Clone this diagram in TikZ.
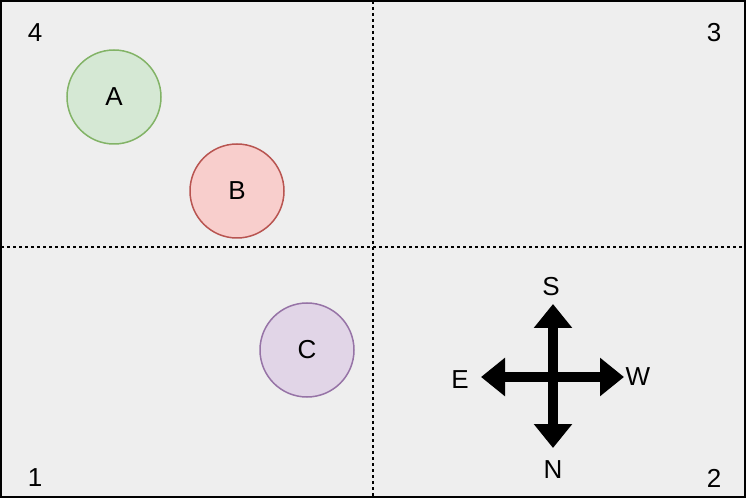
\documentclass[tikz,border=0pt]{standalone}
\usepackage{fontspec}
\setmainfont{Liberation Sans}
\usetikzlibrary{arrows.meta}
\definecolor{bg}{HTML}{EEEEEE}
\definecolor{gf}{HTML}{D5E8D4}\definecolor{gs}{HTML}{82B366}
\definecolor{rf}{HTML}{F8CECC}\definecolor{rs}{HTML}{B85450}
\definecolor{pf}{HTML}{E1D5E7}\definecolor{ps}{HTML}{9673A6}
\tikzset{
 circ/.style={circle,minimum size=94pt,inner sep=0pt,line width=1.5pt,font=\fontsize{26}{28}\selectfont},
 num/.style={font=\fontsize{26}{28}\selectfont,inner sep=0pt},
 dir/.style={font=\fontsize{26}{28}\selectfont,inner sep=0pt},
 comp/.style={line width=10pt,{Triangle[width=37pt,length=24pt]}-{Triangle[width=37pt,length=24pt]},shorten <=-1pt,shorten >=-1pt}
}
\begin{document}
\begin{tikzpicture}[x=1pt,y=-1pt]
\useasboundingbox (0,0) rectangle (747,502);
\draw[fill=bg,line width=1.5pt] (1,1) rectangle (745,497);
\draw[dashed,line width=1.2pt] (373,1) -- (373,497);
\draw[dashed,line width=1.2pt] (1,247) -- (745,247);
\node[num] (n4) at (35,33) {4};
\node[num] (n3) at (714,33) {3};
\node[num] (n1) at (35,478) {1};
\node[num] (n2) at (714,478) {2};
\node[circ,draw=gs,fill=gf] (A) at (114,97) {A};
\node[circ,draw=rs,fill=rf] (B) at (237,191) {B};
\node[circ,draw=ps,fill=pf] (C) at (307,350) {C};
\coordinate (top) at (553,305);
\coordinate (bot) at (553,447);
\coordinate (lft) at (482,377);
\coordinate (rgt) at (623,377);
\draw[comp] (bot) -- (top);
\draw[comp] (lft) -- (rgt);
\node[dir] (S) at (551,287) {S};
\node[dir] (N) at (553,470) {N};
\node[dir] (E) at (460,380) {E};
\node[dir] (W) at (638,377) {W};
\end{tikzpicture}
\end{document}
